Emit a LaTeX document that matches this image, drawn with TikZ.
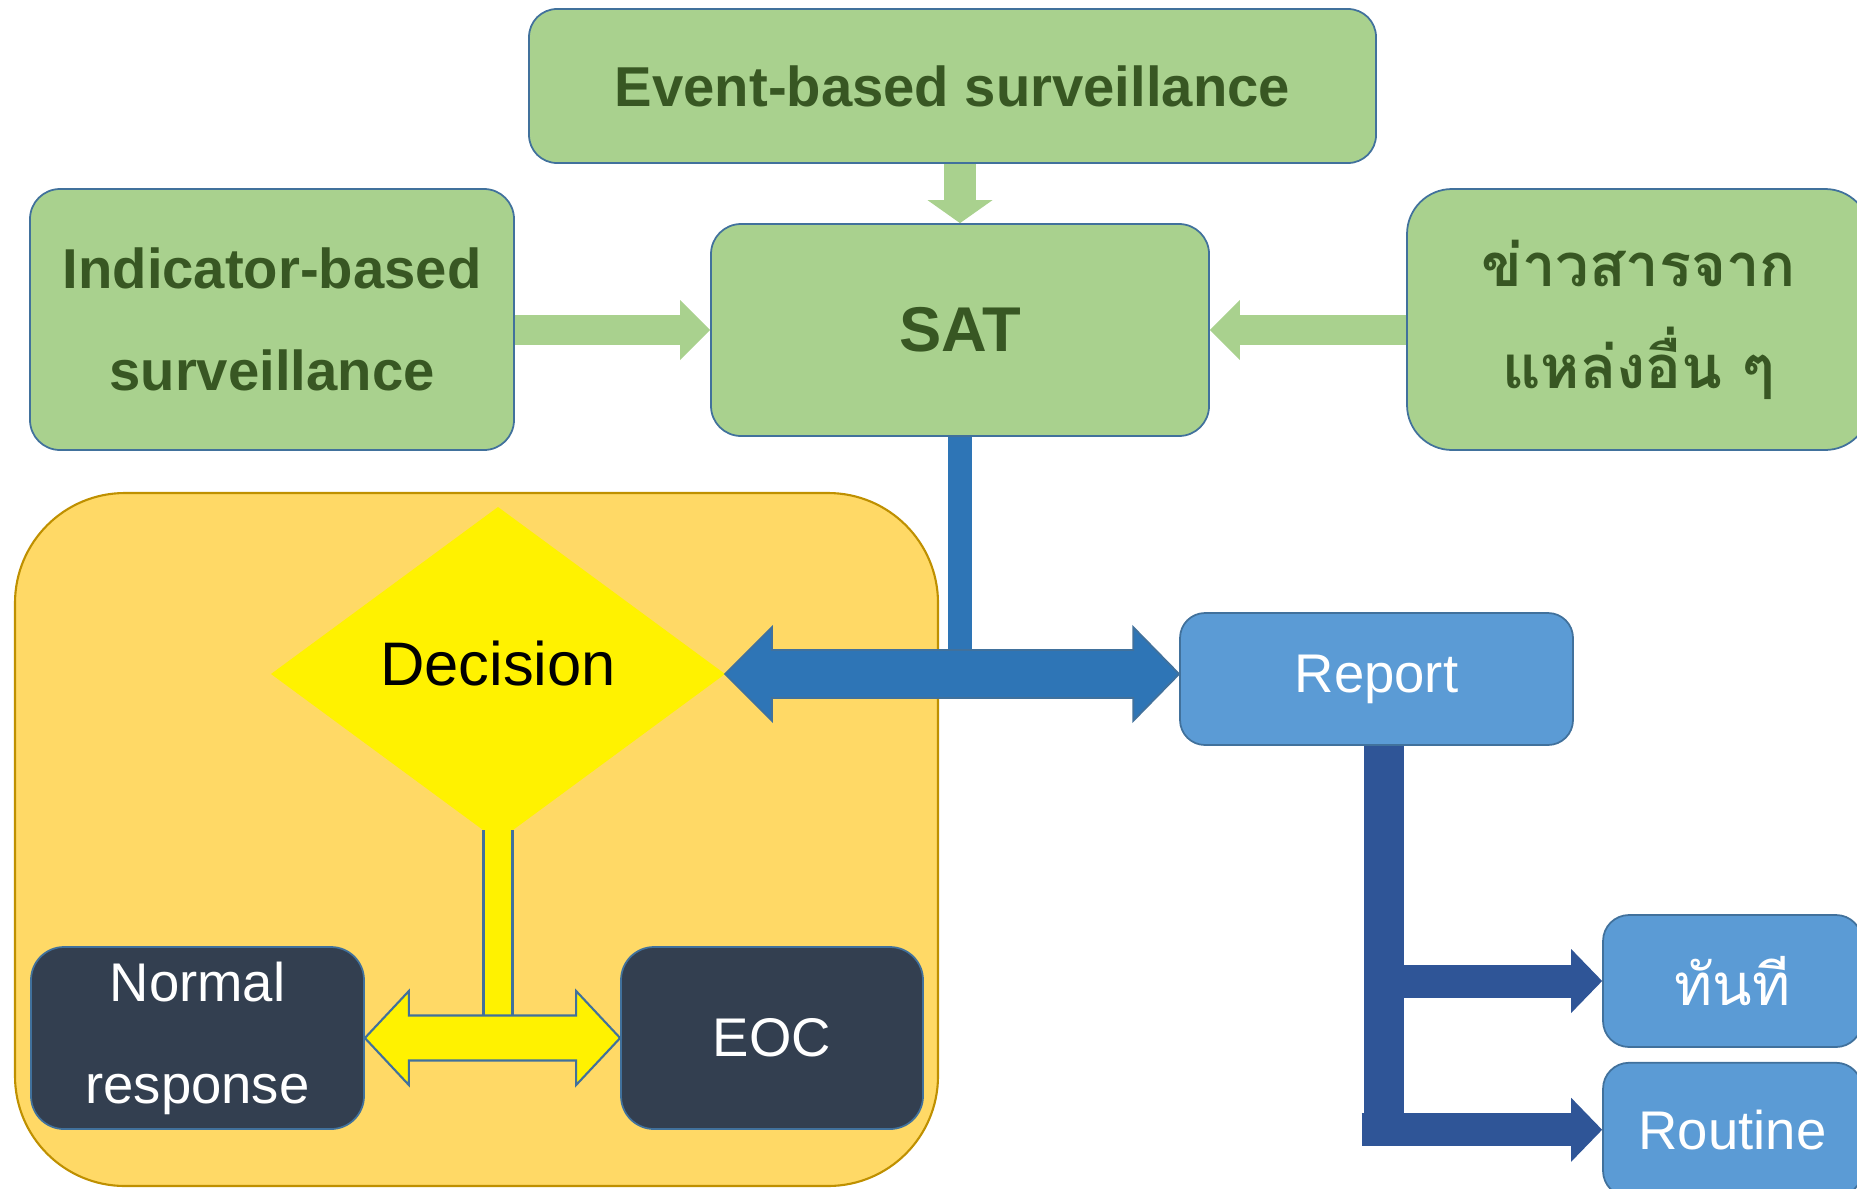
\documentclass[tikz,border=0pt]{standalone}
\usepackage{fontspec}
\setmainfont{Liberation Sans}
\newfontfamily\thaifont[Script=Thai]{Loma}
\usepackage{tikz}
\usetikzlibrary{calc, positioning, arrows.meta, shapes.geometric}
\usepackage{xcolor}
\definecolor{boxGreen}{HTML}{A9D18E}
\definecolor{textGreen}{HTML}{385723}
\definecolor{edgeBlue}{HTML}{41719C}
\definecolor{panelGold}{HTML}{FFD966}
\definecolor{panelEdge}{HTML}{BF9000}
\definecolor{boxNavy}{HTML}{333F50}
\definecolor{boxBlue}{HTML}{5B9BD5}
\definecolor{arrowBlue}{HTML}{2E75B6}
\definecolor{arrowNavy}{HTML}{2F5597}

\begin{document}
\begin{tikzpicture}[
  gbox/.style={draw=edgeBlue, line width=0.5pt, fill=boxGreen, text=textGreen, align=center,
    inner sep=0pt, font=\bfseries\fontsize{16}{29}\selectfont},
  navybox/.style={draw=edgeBlue, line width=0.5pt, fill=boxNavy, text=white, align=center,
    inner sep=0pt, rounded corners=0.33cm, minimum height=1.82cm, font=\fontsize{15.5}{29}\selectfont},
  bluebox/.style={draw=edgeBlue, line width=0.5pt, fill=boxBlue, text=white, align=center,
    inner sep=0pt, rounded corners=0.25cm, font=\fontsize{15.5}{19}\selectfont},
  garrow/.style={draw=boxGreen, -{Triangle[length=0.30cm, width=0.60cm, line width=0pt]}, line width=0.30cm},
  navyarrow/.style={draw=arrowNavy, -{Triangle[length=0.31cm, width=0.64cm, line width=0pt]}, line width=0.33cm},
  bigarrow/.style={fill=arrowBlue, draw=edgeBlue, line width=0.5pt},
  yarrow/.style={fill=yellow, draw=edgeBlue, line width=0.6pt}]
  \useasboundingbox (0,0) rectangle (18.57,11.88);
  \clip (0,0) rectangle (18.57,11.88);

  % Sources feeding the SAT
  \node[gbox, minimum width=8.47cm, minimum height=1.54cm, rounded corners=0.28cm] (ebs) at (9.525,11.02) {Event-based surveillance};
  \node[gbox, minimum width=4.98cm, minimum height=2.12cm, rounded corners=0.3cm,
    font=\bfseries\fontsize{18}{22}\selectfont] (sat) at (9.60,8.58) {SAT};
  \node[gbox, minimum width=4.84cm, minimum height=2.61cm, rounded corners=0.3cm] (ibs) at (2.72,8.685) {Indicator-based\\surveillance};
  \node[gbox, minimum width=4.63cm, minimum height=2.61cm, rounded corners=0.45cm,
    font=\thaifont\bfseries\fontsize{17}{29}\selectfont] (news) at (16.385,8.685) {ข่าวสารจาก\\แหล่งอื่น ๆ};

  \draw[garrow, line width=0.32cm, -{Triangle[length=0.23cm, width=0.65cm, line width=0pt]}] (sat.north |- ebs.south) -- (sat.north);
  \draw[garrow] (ibs.east |- sat.west) -- (sat.west);
  \draw[garrow] (news.west |- sat.east) -- (sat.east);

  % Decision panel
  \draw[fill=panelGold, draw=panelEdge, line width=0.6pt, rounded corners=1.1cm] (0.15,0.02) rectangle (9.38,6.95);
  \node[diamond, fill=yellow, minimum width=4.54cm, minimum height=3.34cm, inner sep=0pt, outer sep=0pt,
    text depth=0.22cm, font=\fontsize{17.5}{21}\selectfont] (dec) at (4.98,5.14) {Decision};
  \node[navybox, minimum width=3.33cm] (nr) at (1.975,1.50) {Normal\\response};
  \node[navybox, minimum width=3.02cm] (eoc) at (7.72,1.50) {EOC};

  \coordinate (ytop) at ([yshift=0.11cm]dec.south);
  \coordinate (ybot) at (dec.south |- nr.east);
  \fill[yellow] ([xshift=-0.145cm]ytop) rectangle ([xshift=0.145cm]ybot);
  \draw[edgeBlue, line width=0.6pt] ([xshift=-0.145cm]ytop) -- ([xshift=-0.145cm]ybot)
    ([xshift=0.145cm]ytop) -- ([xshift=0.145cm]ybot);
  \draw[yarrow] (nr.east) -- ++(0.44,0.47) -- ++(0,-0.245) -- ($(eoc.west)+(-0.44,0.225)$) -- ++(0,0.245)
    -- (eoc.west) -- ++(-0.44,-0.47) -- ++(0,0.245) -- ($(nr.east)+(0.44,-0.225)$) -- ++(0,-0.245) -- cycle;

  % Reporting branch
  \node[bluebox, minimum width=3.93cm, minimum height=1.32cm] (report) at (13.765,5.09) {Report};
  \node[bluebox, minimum width=2.59cm, minimum height=1.32cm, rounded corners=0.26cm,
    font=\thaifont\fontsize{16.5}{22}\selectfont] (now) at (17.325,2.07) {ทันที};
  \node[bluebox, minimum width=2.59cm, minimum height=1.34cm, rounded corners=0.26cm, below=0.14cm of now] (routine) {Routine};

  \draw[arrowBlue, line width=0.24cm] (sat.south) -- (sat.south |- dec.east);
  \coordinate (rtip) at (dec.east -| report.west);
  \draw[bigarrow] (dec.east) -- ++(0.47,0.47) -- ++(0,-0.23) -- ($(rtip)+(-0.46,0.24)$) -- ++(0,0.23)
    -- (rtip) -- ++(-0.46,-0.47) -- ++(0,0.23) -- ($(dec.east)+(0.47,-0.24)$) -- ++(0,-0.23) -- cycle;

  \coordinate (stemtop) at ([xshift=0.07cm]report.south);
  \coordinate (stembot) at (stemtop |- routine.west);
  \coordinate (fork) at (stemtop |- now.west);
  \draw[arrowNavy, line width=0.40cm] (stemtop) -- (stembot);
  \draw[navyarrow] ([xshift=0.2cm]fork) -- (now.west);
  \draw[navyarrow] ([xshift=-0.22cm]stembot) -- (routine.west);
\end{tikzpicture}
\end{document}
